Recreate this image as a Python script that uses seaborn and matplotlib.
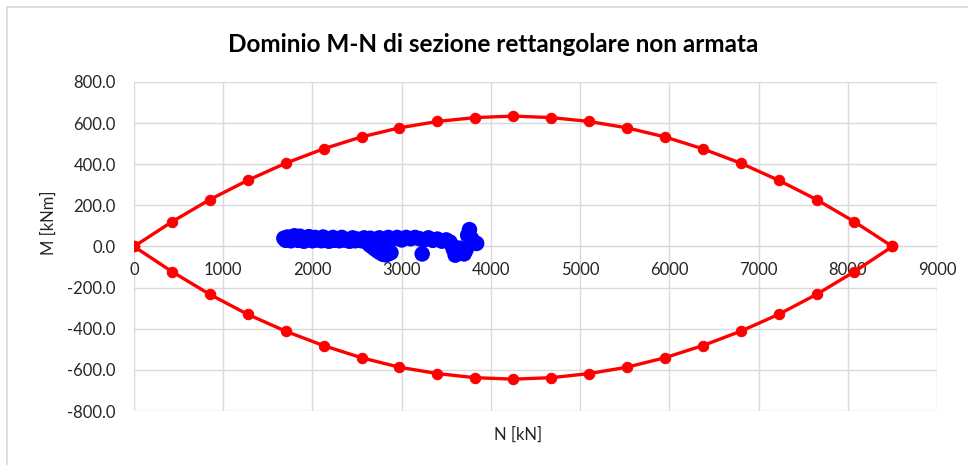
import numpy as np
import pandas as pd
import matplotlib
matplotlib.use("Agg")
import matplotlib.pyplot as plt
from matplotlib.lines import Line2D
import seaborn as sns

# ======================================
# DATA
# ======================================

n_domain = [0, 425, 850, 1275, 1700, 2125, 2550, 2975, 3400, 3825, 4250,
            4675, 5100, 5525, 5950, 6375, 6800, 7225, 7650, 8075, 8500]
m_upper = [0, 120, 228, 322, 405, 475, 533, 577, 608, 627, 634,
           627, 608, 577, 533, 475, 405, 322, 228, 120, 0]
m_lower = [0, -122, -233, -330, -412, -482, -541, -587, -618, -638, -645,
           -638, -618, -587, -541, -482, -412, -330, -233, -122, 0]

n_loads = [1680, 1700, 1720, 1760, 1780, 1800, 1840, 1860, 1880, 1920,
           1960, 2000, 2030, 2050, 2100, 2120, 2150, 2200, 2230, 2250,
           2300, 2330, 2350, 2400, 2450, 2480, 2500, 2550, 2580, 2600,
           2650, 2700, 2750, 2800, 2850, 2900, 2950, 3000, 3050, 3100,
           3150, 3200, 3250, 3300, 3350, 3400, 3450, 3500, 3540, 2620,
           2640, 2670, 2700, 2730, 2760, 2790, 2820, 2850, 2880, 2720,
           3230, 3560, 3580, 3600, 3620, 3650, 3700, 3720, 3740, 3760,
           3780, 3800, 3820, 3840, 1900, 2180, 2420]
m_loads = [40, 30, 46, 28, 48, 52, 30, 50, 42, 28,
           48, 28, 44, 32, 28, 46, 34, 28, 44, 30,
           28, 44, 32, 28, 42, 28, 36, 28, 42, 26,
           40, 30, 42, 28, 44, 36, 44, 32, 44, 38,
           44, 38, 32, 42, 30, 36, 26, 32, 22, 18,
           8, -2, -12, -22, -30, -38, -40, -36, -30, -4,
           -36, 8, -14, -42, -30, -8, -36, -18, 55, 82,
           40, 25, 18, 15, 26, 26, 26]

df_up = pd.DataFrame({"N": n_domain, "M": m_upper})
df_lo = pd.DataFrame({"N": n_domain, "M": m_lower})
df_loads = pd.DataFrame({"N": n_loads, "M": m_loads})

# ======================================
# PLOT
# ======================================

sns.set_style("white")
plt.rcParams["font.family"] = ["Lato", "DejaVu Sans"]

fig = plt.figure(figsize=(9.68, 4.65), dpi=100)
ax = fig.add_axes([0.1384, 0.1161, 0.8296, 0.7076])

grid_col = "#d9d9d9"
text_col = "#262626"

sns.scatterplot(data=df_loads, x="N", y="M", ax=ax, color="#0000ff",
                s=125, edgecolor="none", zorder=3)
for d in (df_up, df_lo):
    sns.lineplot(data=d, x="N", y="M", ax=ax, sort=False, color="#ff0000",
                 linewidth=2.4, marker="o", markersize=7.5,
                 markeredgecolor="#ff0000", zorder=4)

ax.set_xlim(0, 9000)
ax.set_ylim(-800, 800)
ax.set_xticks(np.arange(0, 9001, 1000))
ax.set_yticks(np.arange(-800, 801, 200))
ax.set_yticklabels([f"{v:.1f}" for v in np.arange(-800, 801, 200)])
ax.grid(True, color=grid_col, linewidth=1)
ax.set_axisbelow(True)

for s in ("top", "right", "left"):
    ax.spines[s].set_visible(False)
ax.spines["bottom"].set_position(("data", 0))
ax.spines["bottom"].set_color(grid_col)
ax.tick_params(axis="both", length=0, labelsize=12, colors=text_col)
ax.tick_params(axis="x", pad=11)
ax.tick_params(axis="y", pad=13)

ax.set_xlabel("")
ax.set_ylabel("")
fig.text(0.535, 0.065, "N [kN]", ha="center", va="center",
         fontsize=12, color=text_col)
fig.text(0.05, 0.52, "M [kNm]", ha="center", va="center",
         fontsize=12, color=text_col, rotation=90)
fig.text(0.509, 0.905, "Dominio M-N di sezione rettangolare non armata",
         ha="center", va="center", fontsize=17.5, fontweight="bold",
         color="#000000")

# chart border (Excel style)
fig.add_artist(Line2D([0.0075, 1.0], [0.985, 0.985], color=grid_col,
                      linewidth=1.2, transform=fig.transFigure))
fig.add_artist(Line2D([0.0075, 0.0075], [0.0, 0.985], color=grid_col,
                      linewidth=1.2, transform=fig.transFigure))

plt.savefig("out.png", dpi=100)
plt.close()
